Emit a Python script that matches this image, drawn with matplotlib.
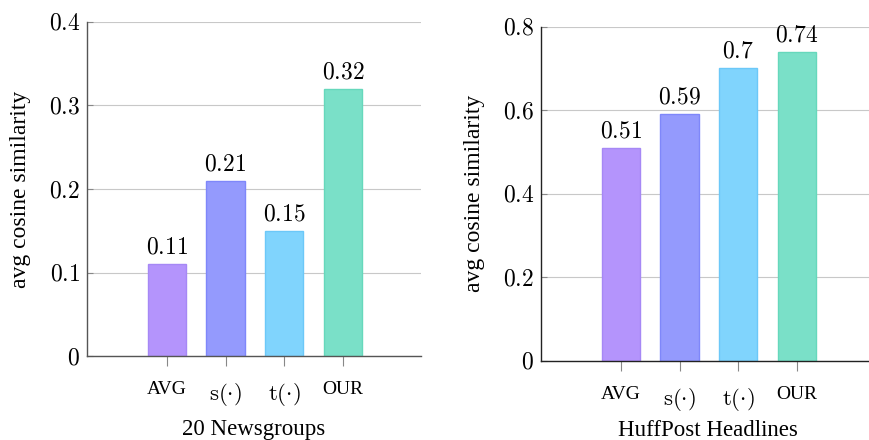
import matplotlib
matplotlib.use("Agg")
import matplotlib.pyplot as plt

plt.rcParams['font.family'] = ['Liberation Serif', 'DejaVu Serif']
plt.rcParams['mathtext.fontset'] = 'cm'

methods = ["AVG", r"$\mathrm{s}(\cdot)$", r"$\mathrm{t}(\cdot)$", "OUR"]
newsgroups_vals = [0.11, 0.21, 0.15, 0.32]
huffpost_vals = [0.51, 0.59, 0.70, 0.74]
newsgroups_labels = ["0.11", "0.21", "0.15", "0.32"]
huffpost_labels = ["0.51", "0.59", "0.7", "0.74"]
titles = ["20 Newsgroups", "HuffPost Headlines"]
ylabel = "avg cosine similarity"
yticks_left = [0, 0.1, 0.2, 0.3, 0.4]
yticks_right = [0, 0.2, 0.4, 0.6, 0.8]
ytick_text_left = ["0", "0.1", "0.2", "0.3", "0.4"]
ytick_text_right = ["0", "0.2", "0.4", "0.6", "0.8"]

face_colors = ["#b494fc", "#949afd", "#80d4fd", "#7ae0c8"]
edge_colors = ["#a688f5", "#7f87fa", "#6cc8f8", "#66d8bc"]

W, H = 870, 440
fig = plt.figure(figsize=(W / 100, H / 100), dpi=100)

def make_axes(left, top, right, bottom):
    return fig.add_axes([left / W, 1 - bottom / H, (right - left) / W, (bottom - top) / H])

ax1 = make_axes(87, 22, 421, 356)
ax2 = make_axes(541, 26.7, 875, 360.7)

def draw(ax, vals, labels, yticks, ytext, ymax, title, spine_color, xlabelpad):
    x = [1, 2, 3, 4]
    ax.bar(x, vals, width=0.65, color=face_colors, edgecolor=edge_colors,
           linewidth=1.0, zorder=3)
    for xi, v, lab in zip(x, vals, labels):
        ax.annotate(r"$%s$" % lab, (xi, v), xytext=(0, 4), textcoords="offset points",
                    ha="center", va="bottom", fontsize=17, zorder=4)
    ax.set_xlim(-0.36, 5.33)
    ax.set_ylim(0, ymax)
    ax.set_yticks(yticks)
    ax.set_yticklabels([r"$%s$" % t for t in ytext], fontsize=17)
    ax.set_xticks(x)
    ax.set_xticklabels(methods)
    for i, t in enumerate(ax.get_xticklabels()):
        if i in (0, 3):
            t.set_fontsize(14)
        else:
            t.set_fontsize(16.5)
    ax.grid(axis="y", color="#c8c8c8", linewidth=0.8, zorder=0)
    ax.set_axisbelow(True)
    for s in ("top", "right"):
        ax.spines[s].set_visible(False)
    for s in ("left", "bottom"):
        ax.spines[s].set_color(spine_color)
        ax.spines[s].set_linewidth(1.0)
        ax.spines[s].set_zorder(5)
    ax.tick_params(axis="y", direction="in", length=4, color="#888888", pad=5)
    ax.tick_params(axis="x", direction="out", length=7, color="#888888", pad=11)
    ax.set_ylabel(ylabel, fontsize=17, labelpad=13)
    ax.set_xlabel(title, fontsize=16.5, labelpad=xlabelpad)

draw(ax1, newsgroups_vals, newsgroups_labels, yticks_left, ytick_text_left, 0.4,
     titles[0], "#555555", 8)
draw(ax2, huffpost_vals, huffpost_labels, yticks_right, ytick_text_right, 0.8,
     titles[1], "#222222", 5)

fig.savefig("out.png", dpi=100)
